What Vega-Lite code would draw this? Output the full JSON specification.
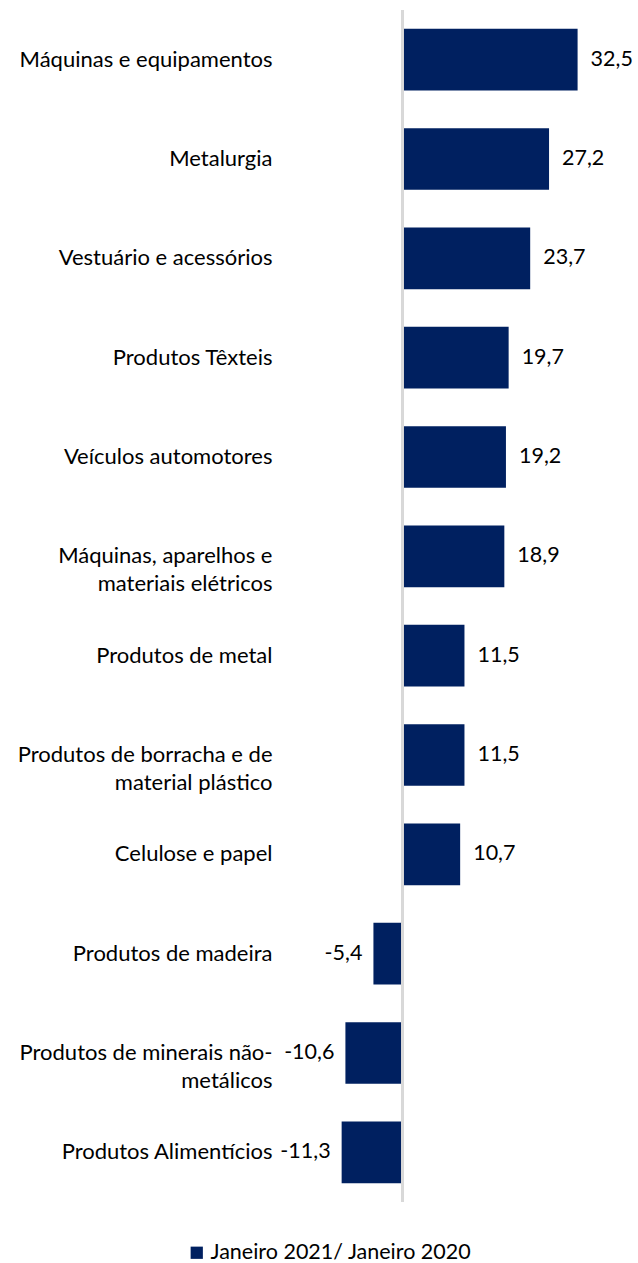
{
  "$schema": "https://vega.github.io/schema/vega-lite/v6.json",
  "width": 334,
  "height": 1192,
  "autosize": {"type": "none"},
  "padding": {"left": 284, "top": 10, "right": 20, "bottom": 61},
  "background": "white",
  "config": {
    "view": {"stroke": null},
    "font": "Lato",
    "locale": {"number": {"decimal": ",", "thousands": ".", "grouping": [3], "currency": ["R$", ""], "minus": "-"}}
  },
  "data": {
    "values": [
      {"setor": "Máquinas e equipamentos", "valor": 32.5, "serie": "Janeiro 2021/ Janeiro 2020"},
      {"setor": "Metalurgia", "valor": 27.2, "serie": "Janeiro 2021/ Janeiro 2020"},
      {"setor": "Vestuário e acessórios", "valor": 23.7, "serie": "Janeiro 2021/ Janeiro 2020"},
      {"setor": "Produtos Têxteis", "valor": 19.7, "serie": "Janeiro 2021/ Janeiro 2020"},
      {"setor": "Veículos automotores", "valor": 19.2, "serie": "Janeiro 2021/ Janeiro 2020"},
      {"setor": "Máquinas, aparelhos e|materiais elétricos", "valor": 18.9, "serie": "Janeiro 2021/ Janeiro 2020"},
      {"setor": "Produtos de metal", "valor": 11.5, "serie": "Janeiro 2021/ Janeiro 2020"},
      {"setor": "Produtos de borracha e de|material plástico", "valor": 11.5, "serie": "Janeiro 2021/ Janeiro 2020"},
      {"setor": "Celulose e papel", "valor": 10.7, "serie": "Janeiro 2021/ Janeiro 2020"},
      {"setor": "Produtos de madeira", "valor": -5.4, "serie": "Janeiro 2021/ Janeiro 2020"},
      {"setor": "Produtos de minerais não-|metálicos", "valor": -10.6, "serie": "Janeiro 2021/ Janeiro 2020"},
      {"setor": "Produtos Alimentícios", "valor": -11.3, "serie": "Janeiro 2021/ Janeiro 2020"}
    ]
  },
  "encoding": {
    "y": {
      "field": "setor",
      "type": "nominal",
      "sort": null,
      "scale": {"paddingInner": 0.38, "paddingOuter": 0.19},
      "axis": {
        "title": null,
        "domain": false,
        "ticks": false,
        "labelPadding": 12,
        "labelFontSize": 22,
        "labelColor": "#000000",
        "labelFont": "Lato",
        "labelLineHeight": 28,
        "labelExpr": "split(datum.label, '|')",
        "labelLimit": 300
      }
    }
  },
  "layer": [
    {
      "mark": {"type": "bar", "color": "#002060"},
      "encoding": {
        "x": {
          "field": "valor",
          "type": "quantitative",
          "scale": {"domain": [-22, 40], "nice": false, "zero": false},
          "axis": null
        },
        "color": {
          "field": "serie",
          "type": "nominal",
          "scale": {"range": ["#002060"]},
          "legend": {
            "title": null,
            "orient": "none",
            "legendX": -98,
            "legendY": 1232,
            "symbolType": "square",
            "symbolSize": 150,
            "symbolStrokeWidth": 0,
            "labelFontSize": 21.5,
            "labelColor": "#000000",
            "labelFont": "Lato",
            "labelOffset": 3,
            "labelLimit": 400
          }
        }
      }
    },
    {
      "mark": {"type": "rule", "color": "#d9d9d9", "strokeWidth": 2},
      "encoding": {"x": {"datum": 0}, "y": {"value": 0}, "y2": {"value": 1192}}
    },
    {
      "transform": [{"filter": "datum.valor >= 0"}],
      "mark": {"type": "text", "align": "left", "dx": 13, "fontSize": 21.5, "font": "Lato", "color": "#000000"},
      "encoding": {
        "x": {"field": "valor", "type": "quantitative"},
        "text": {"field": "valor", "type": "quantitative", "format": ".1f"}
      }
    },
    {
      "transform": [{"filter": "datum.valor < 0"}],
      "mark": {"type": "text", "align": "right", "dx": -11, "fontSize": 21.5, "font": "Lato", "color": "#000000"},
      "encoding": {
        "x": {"field": "valor", "type": "quantitative"},
        "text": {"field": "valor", "type": "quantitative", "format": ".1f"}
      }
    }
  ]
}
